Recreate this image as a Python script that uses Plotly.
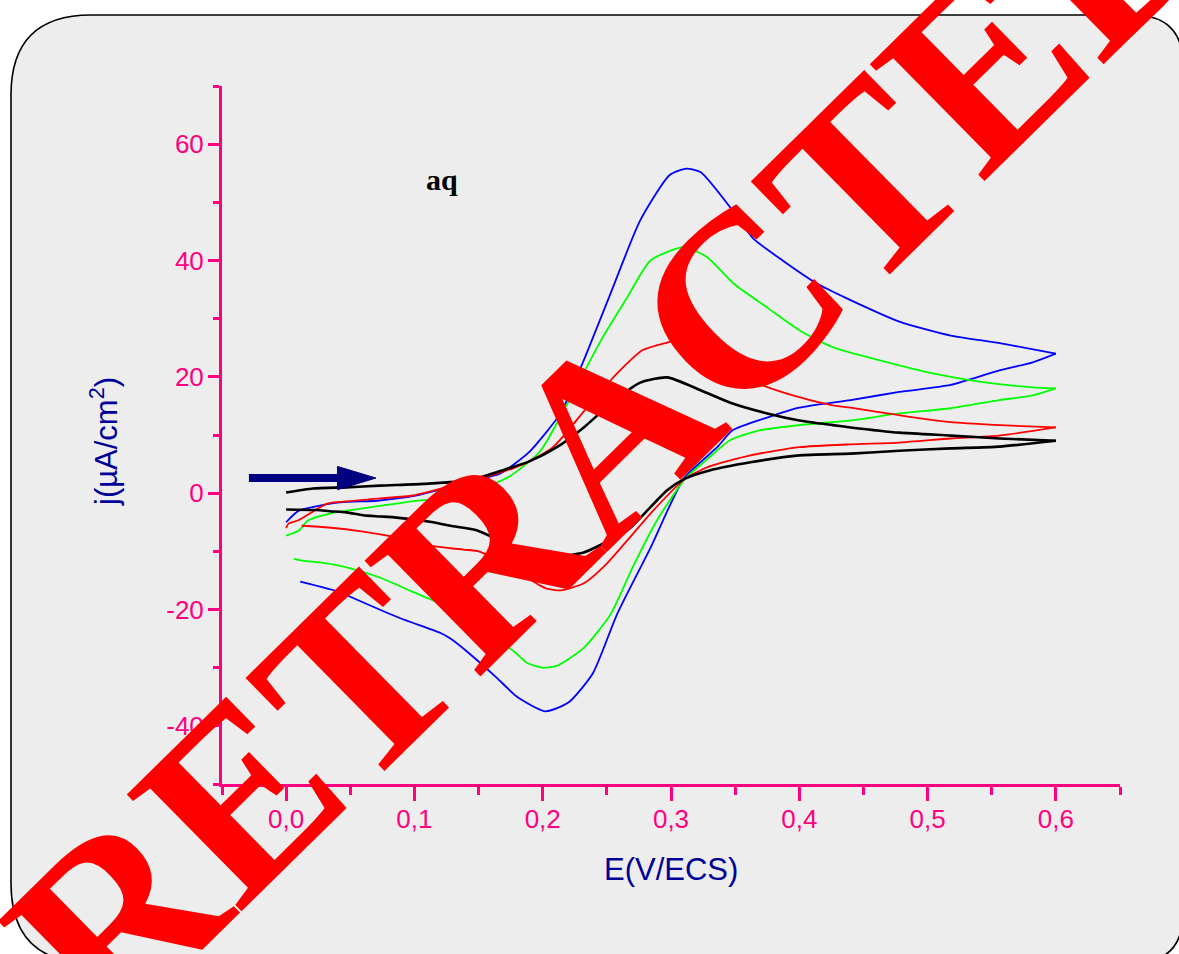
import plotly.graph_objects as go

# ---------------- data ----------------
# Blue CV
E_blue_fwd = [0.0, 0.01, 0.042, 0.071, 0.102, 0.143, 0.167, 0.19, 0.214, 0.231, 0.253, 0.276,
              0.299, 0.312, 0.323, 0.348, 0.364, 0.387, 0.414, 0.437, 0.478, 0.518, 0.556, 0.6]
j_blue_fwd = [-5.0, -3.0, -1.6, -1.3, -0.4, 2.0, 3.4, 7.2, 13.8, 22.3, 34.4, 46.9,
              54.7, 55.8, 55.2, 48.6, 43.8, 40.0, 36.0, 33.5, 29.5, 27.1, 25.8, 24.0]
E_blue_rev = [0.6, 0.582, 0.556, 0.518, 0.478, 0.44, 0.4, 0.375, 0.348, 0.336, 0.31, 0.284,
              0.258, 0.239, 0.22, 0.202, 0.18, 0.164, 0.143, 0.128, 0.12, 0.089, 0.05, 0.042, 0.011]
j_blue_rev = [24.0, 22.5, 21.1, 18.6, 17.4, 16.0, 14.7, 13.0, 10.8, 7.9, 2.5, -9.4,
              -20.8, -31.0, -36.0, -37.5, -35.0, -31.7, -27.6, -25.0, -24.0, -21.5, -17.8, -17.0, -15.2]

# Green CV
E_green_fwd = [0.0, 0.01, 0.017, 0.034, 0.06, 0.086, 0.102, 0.125, 0.15, 0.175, 0.198, 0.219,
               0.245, 0.266, 0.284, 0.31, 0.328, 0.349, 0.375, 0.4, 0.426, 0.465, 0.504, 0.543, 0.582, 0.6]
j_green_fwd = [-7.3, -6.4, -4.7, -3.5, -2.6, -1.8, -1.3, -0.9, 0.5, 3.0, 7.2, 15.3,
               26.1, 33.7, 40.0, 42.3, 40.6, 36.0, 31.9, 28.0, 25.1, 22.7, 20.6, 19.1, 18.2, 18.0]
E_green_rev = [0.6, 0.582, 0.556, 0.518, 0.478, 0.44, 0.4, 0.369, 0.346, 0.327, 0.311, 0.289,
               0.27, 0.253, 0.232, 0.211, 0.2, 0.188, 0.177, 0.159, 0.143, 0.12, 0.097, 0.073,
               0.048, 0.029, 0.013, 0.006]
j_green_rev = [18.0, 16.8, 16.0, 14.6, 13.7, 12.5, 11.7, 10.8, 9.1, 5.6, 2.5, -4.7,
               -12.8, -20.8, -26.6, -29.7, -30.0, -29.2, -27.1, -24.5, -22.0, -19.0, -16.8, -14.5,
               -12.8, -12.0, -11.6, -11.3]

# Red CV
E_red_fwd = [0.0, 0.002, 0.009, 0.032, 0.042, 0.073, 0.099, 0.136, 0.159, 0.185, 0.208, 0.237,
             0.258, 0.278, 0.297, 0.305, 0.32, 0.345, 0.369, 0.4, 0.426, 0.44, 0.478, 0.518, 0.556, 0.6]
j_red_fwd = [-6.0, -5.2, -4.7, -1.8, -1.5, -0.9, -0.4, 1.7, 3.0, 5.0, 7.9, 15.4,
             20.6, 24.6, 25.9, 26.3, 25.5, 22.0, 18.8, 16.5, 15.1, 14.7, 13.4, 12.2, 11.7, 11.3]
E_red_rev = [0.6, 0.556, 0.518, 0.478, 0.44, 0.4, 0.362, 0.33, 0.311, 0.284, 0.268, 0.25,
             0.232, 0.214, 0.203, 0.198, 0.182, 0.167, 0.15, 0.138, 0.112, 0.086, 0.06, 0.033, 0.012]
j_red_rev = [11.3, 9.9, 9.4, 8.7, 8.4, 7.9, 6.5, 4.6, 2.5, -3.5, -7.6, -12.1,
             -15.5, -16.7, -16.4, -15.9, -13.7, -11.6, -10.0, -9.7, -9.0, -7.6, -6.6, -5.9, -5.6]

# Black CV
E_black_fwd = [0.0, 0.021, 0.047, 0.073, 0.107, 0.143, 0.167, 0.19, 0.211, 0.232, 0.253, 0.276,
               0.297, 0.323, 0.348, 0.375, 0.4, 0.426, 0.44, 0.478, 0.518, 0.556, 0.6]
j_black_fwd = [0.1, 0.8, 1.0, 1.3, 1.6, 2.2, 3.8, 5.5, 7.9, 11.3, 15.4, 19.0,
               19.9, 17.7, 15.4, 13.7, 12.5, 11.7, 11.3, 10.4, 9.9, 9.4, 9.0]
E_black_rev = [0.6, 0.556, 0.518, 0.478, 0.44, 0.4, 0.362, 0.33, 0.311, 0.297, 0.284, 0.266,
               0.247, 0.232, 0.214, 0.195, 0.18, 0.167, 0.149, 0.128, 0.112, 0.086, 0.073,
               0.06, 0.047, 0.034, 0.024, 0.0]
j_black_rev = [9.0, 8.0, 7.7, 7.3, 6.8, 6.5, 5.3, 3.9, 2.5, 0.5, -2.4, -6.4,
               -8.7, -10.2, -10.8, -10.2, -9.5, -8.2, -6.4, -5.6, -4.9, -4.2, -4.0,
               -3.8, -3.3, -3.1, -2.9, -2.8]

X_TICKS = [0.0, 0.1, 0.2, 0.3, 0.4, 0.5, 0.6]
X_LABELS = ["0,0", "0,1", "0,2", "0,3", "0,4", "0,5", "0,6"]
Y_TICKS = [-40, -20, 0, 20, 40, 60]
Y_LABELS = ["-40", "-20", "0", "20", "40", "60"]

# scan-direction arrow (data units)
ARROW_TAIL_E = -0.029
ARROW_HEADBASE_E = 0.040
ARROW_TIP_E = 0.070
ARROW_J = 2.6
ARROW_HALF_J = 2.0

# ---------------- figure ----------------
W, H = 1179, 954
L, R, T, B = 222, 1120, 86, 784   # plot area in pixels

PINK = "#FF0080"
NAVY = "#000099"

def px(xp):
    return (xp - L) / (R - L)

def py(yp):
    return (B - yp) / (B - T)

fig = go.Figure()
series = [
    (E_blue_fwd, j_blue_fwd, E_blue_rev, j_blue_rev, "#0000FF", 1.8),
    (E_green_fwd, j_green_fwd, E_green_rev, j_green_rev, "#00FF00", 1.8),
    (E_red_fwd, j_red_fwd, E_red_rev, j_red_rev, "#FF0000", 1.8),
    (E_black_fwd, j_black_fwd, E_black_rev, j_black_rev, "#000000", 2.6),
]
for ef, jf, er, jr, c, w in series:
    for e, j in ((ef, jf), (er, jr)):
        fig.add_trace(go.Scatter(x=e, y=j, mode="lines",
                                 line=dict(color=c, width=w, shape="spline", smoothing=0.6),
                                 showlegend=False, hoverinfo="skip"))

# rounded background panel
x0, y0, x1, y1 = 11, 15, 1183, 963
rl, rr = 80, 50
def P(a, b):
    return f"{px(a):.5f},{py(b):.5f}"
path = (f"M {P(x0 + rl, y0)} L {P(x1 - rr, y0)} Q {P(x1, y0)} {P(x1, y0 + rr)} "
        f"L {P(x1, y1 - rr)} Q {P(x1, y1)} {P(x1 - rr, y1)} "
        f"L {P(x0 + rl, y1)} Q {P(x0, y1)} {P(x0, y1 - rl)} "
        f"L {P(x0, y0 + rl)} Q {P(x0, y0)} {P(x0 + rl, y0)} Z")
shapes = [
    dict(type="path", xref="paper", yref="paper", path=path, layer="below",
         fillcolor="#EDEDED", line=dict(color="black", width=1.6)),
    dict(type="line", xref="x", yref="y", x0=ARROW_TAIL_E, x1=ARROW_HEADBASE_E + 0.003,
         y0=ARROW_J, y1=ARROW_J, line=dict(color="#000080", width=8), layer="above"),
    dict(type="path", xref="x", yref="y", layer="above",
         path=(f"M {ARROW_HEADBASE_E},{ARROW_J - ARROW_HALF_J} L {ARROW_TIP_E},{ARROW_J} "
               f"L {ARROW_HEADBASE_E},{ARROW_J + ARROW_HALF_J} Z"),
         fillcolor="#000080", line=dict(color="#000080", width=1)),
]

annotations = [
    dict(text="E(V/ECS)", xref="paper", yref="paper", x=px(671), y=py(869),
         showarrow=False, xanchor="center", yanchor="middle",
         font=dict(family="Liberation Sans, Arial", size=31, color=NAVY)),
    dict(text="j(µA/cm<sup>2</sup>)", xref="paper", yref="paper", x=px(104), y=py(442),
         showarrow=False, textangle=-90, xanchor="center", yanchor="middle",
         font=dict(family="Liberation Sans, Arial", size=31, color=NAVY)),
    dict(text="<b>aq</b>", xref="paper", yref="paper", x=px(442), y=py(180),
         showarrow=False, xanchor="center", yanchor="middle",
         font=dict(family="Liberation Serif, Times New Roman", size=30, color="black")),
    dict(text="<b>RETRACTED</b>", xref="paper", yref="paper", x=px(610), y=py(430),
         showarrow=False, textangle=-44.5, xanchor="center", yanchor="middle",
         font=dict(family="Liberation Serif, Times New Roman", size=250, color="#FF0000")),
]

axis_common = dict(showgrid=False, zeroline=False, showline=True, linecolor=PINK, linewidth=3,
                   ticks="outside", tickcolor=PINK, tickwidth=3,
                   tickfont=dict(family="Liberation Sans, Arial", size=26, color=PINK),
                   mirror=False, fixedrange=True)

fig.update_layout(
    width=W, height=H, autosize=False,
    margin=dict(l=L, r=W - R, t=T, b=H - B, pad=0),
    paper_bgcolor="white", plot_bgcolor="rgba(0,0,0,0)",
    shapes=shapes, annotations=annotations,
    xaxis=dict(range=[-0.05, 0.65], tickvals=X_TICKS, ticktext=X_LABELS, ticklen=14,
               ticklabelstandoff=-4,
               minor=dict(dtick=0.05, tick0=0, ticks="outside", ticklen=8, tickwidth=3,
                          tickcolor=PINK),
               **axis_common),
    yaxis=dict(range=[-50, 70], tickvals=Y_TICKS, ticktext=Y_LABELS, ticklen=11,
               ticklabelstandoff=-1,
               minor=dict(dtick=10, tick0=0, ticks="outside", ticklen=6, tickwidth=3,
                          tickcolor=PINK),
               **axis_common),
)

fig.write_html("out.html", config={"displayModeBar": False, "staticPlot": True},
               post_script="document.body.style.margin='0';document.body.style.overflow='hidden';")
